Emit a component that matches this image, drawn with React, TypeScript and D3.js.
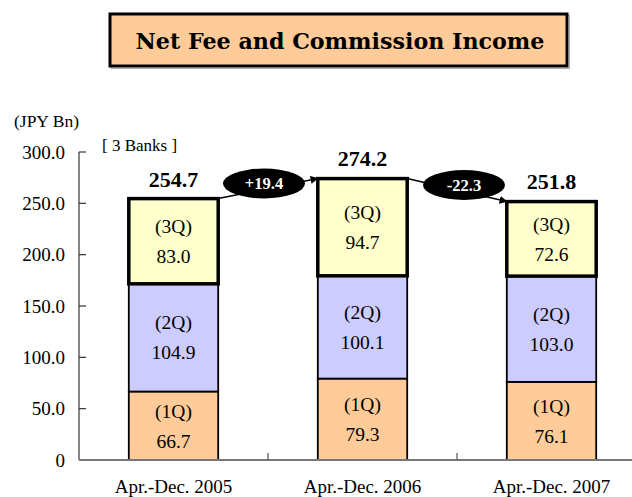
import React from "react";
import * as d3 from "d3";

const categories = ["Apr.-Dec. 2005", "Apr.-Dec. 2006", "Apr.-Dec. 2007"];
const q1 = [66.7, 79.3, 76.1];
const q2 = [104.9, 100.1, 103.0];
const q3 = [83.0, 94.7, 72.6];
const totals = [254.7, 274.2, 251.8];
const changes = ["+19.4", "-22.3"];
const quarterLabels = ["(1Q)", "(2Q)", "(3Q)"];
const yTicks = [0, 50, 100, 150, 200, 250, 300];

const colors = ["#FFCC99", "#CCCCFF", "#FFFFCC"];
const serif = "Liberation Serif, Times New Roman, serif";

export default function App() {
  const W = 632, H = 497;
  const x = d3.scaleBand<string>().domain(categories).range([79, 646]).paddingInner(0.527).paddingOuter(0.2635);
  const y = d3.scaleLinear().domain([0, 300]).range([460, 152]);
  const series = [q1, q2, q3];
  const bw = x.bandwidth();
  const step = x.step();

  const segs: any[] = [];
  categories.forEach((c, i) => {
    let base = 0;
    series.forEach((s, k) => {
      const v = s[i];
      segs.push({ c, i, k, y0: base, y1: base + v, v });
      base += v;
    });
  });

  const arrows = changes.map((t, i) => {
    const x1 = (x(categories[i]) as number) + bw;
    const y1 = y(totals[i]);
    const x2 = x(categories[i + 1]) as number;
    const y2 = y(totals[i + 1]);
    return { t, x1, y1, x2, y2, cx: (x1 + x2) / 2 + (i === 0 ? -4 : 7), cy: (y1 + y2) / 2 - 5 };
  });

  return (
    <svg width={W} height={H} style={{ position: "absolute", left: 0, top: 0, fontFamily: serif }}>
      <defs>
        <marker id="ah" viewBox="0 0 10 10" refX="9" refY="5" markerWidth="8" markerHeight="8" orient="auto" markerUnits="userSpaceOnUse">
          <path d="M0,0 L10,5 L0,10 Z" fill="#000" />
        </marker>
      </defs>
      <rect width={W} height={H} fill="#fff" />
      {/* Title */}
      <rect x={111.5} y={15.5} width={458} height={53} fill="none" stroke="#aaa" strokeWidth={1} />
      <rect x={110} y={14} width={457} height={52} fill="#FFCC99" stroke="#000" strokeWidth={3} />
      <text x={340} y={49} textAnchor="middle" style={{ fontFamily: "DejaVu Serif, serif" }} fontWeight="bold" fontSize={22.2}>
        Net Fee and Commission Income
      </text>
      <text x={14} y={127} fontSize={17.5}>(JPY Bn)</text>
      <text x={102} y={151} fontSize={17}>[ 3 Banks ]</text>

      {/* Y axis */}
      <line x1={79} x2={79} y1={y(300)} y2={y(0)} stroke="#333" strokeWidth={1.2} />
      {yTicks.map((t) => (
        <g key={t}>
          <line x1={79} x2={86} y1={y(t)} y2={y(t)} stroke="#333" strokeWidth={1.2} />
          <text x={65} y={y(t)} dy="0.35em" textAnchor="end" fontSize={19}>
            {t === 0 ? "0" : t.toFixed(1)}
          </text>
        </g>
      ))}

      {/* Bars */}
      {segs.map((s, j) => {
        const bx = x(s.c) as number;
        const top = y(s.y1);
        const bot = y(s.y0);
        return (
          <rect key={j} x={bx} y={top} width={bw} height={bot - top} fill={colors[s.k]} stroke="#000" strokeWidth={1.8} />
        );
      })}
      {segs.filter((s) => s.k === 2).map((s, j) => {
        const bx = x(s.c) as number;
        return <rect key={"o" + j} x={bx} y={y(s.y1)} width={bw} height={y(s.y0) - y(s.y1)} fill="none" stroke="#000" strokeWidth={3.5} />;
      })}
      {segs.map((s, j) => {
        const bx = (x(s.c) as number) + bw / 2;
        const mid = (y(s.y1) + y(s.y0)) / 2;
        return (
          <g key={"l" + j} fontSize={19.5} textAnchor="middle">
            <text x={bx} y={mid - 15} dy="0.35em">{quarterLabels[s.k]}</text>
            <text x={bx} y={mid + 15} dy="0.35em">{s.v.toFixed(1)}</text>
          </g>
        );
      })}

      {/* X axis */}
      <line x1={79} x2={632} y1={y(0)} y2={y(0)} stroke="#777" strokeWidth={2.2} />
      {[1, 2].map((i) => (
        <line key={i} x1={79 + i * step} x2={79 + i * step} y1={y(0)} y2={y(0) - 7} stroke="#555" strokeWidth={1.2} />
      ))}
      {categories.map((c) => (
        <text key={c} x={(x(c) as number) + bw / 2} y={493} textAnchor="middle" fontSize={19}>{c}</text>
      ))}

      {/* Totals */}
      {categories.map((c, i) => (
        <text key={"t" + c} x={(x(c) as number) + bw / 2} y={y(totals[i]) - 12} textAnchor="middle" fontSize={22} fontWeight="bold">
          {totals[i].toFixed(1)}
        </text>
      ))}

      {/* Change arrows */}
      {arrows.map((a, i) => (
        <g key={"a" + i}>
          <line x1={a.x1} y1={a.y1} x2={a.x2} y2={a.y2} stroke="#000" strokeWidth={1.5} markerEnd="url(#ah)" />
          <ellipse cx={a.cx} cy={a.cy} rx={41} ry={15} fill="#000" />
          <text x={a.cx} y={a.cy} dy="0.35em" textAnchor="middle" fill="#fff" fontWeight="bold" fontSize={16.5}>{a.t}</text>
        </g>
      ))}
    </svg>
  );
}
